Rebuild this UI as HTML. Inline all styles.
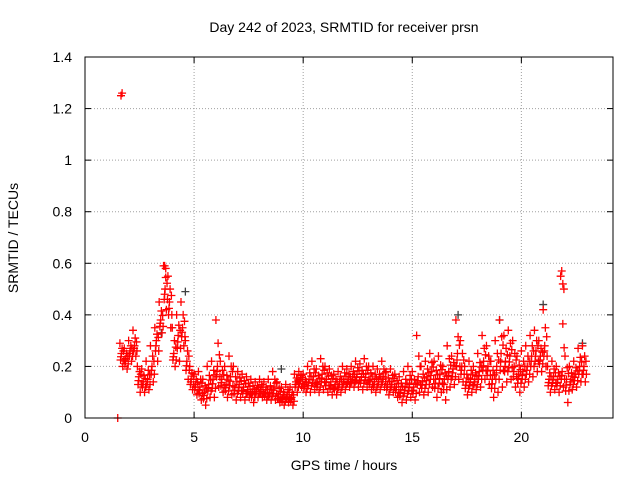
<!DOCTYPE html>
<html><head><meta charset="utf-8"><style>
body{margin:0;background:#fff;}
svg{display:block;font-family:"Liberation Sans",sans-serif;}
</style></head><body>
<svg id="chart" width="640" height="480" viewBox="0 0 640 480" xmlns="http://www.w3.org/2000/svg">
<text x="344" y="32" font-size="14" text-anchor="middle">Day 242 of 2023, SRMTID for receiver prsn</text>
<text x="344" y="470" font-size="14" text-anchor="middle">GPS time / hours</text>
<text transform="translate(18,238) rotate(-90)" font-size="14" text-anchor="middle">SRMTID / TECUs</text>
<g id="grid"></g>
<g id="ticks"></g>
<g id="marks"></g>
<rect x="85" y="57" width="528" height="361" fill="none" stroke="#000" stroke-width="1"/>
</svg>
<script>
const xTicks=[0,5,10,15,20];
const yTicks=[0,0.2,0.4,0.6,0.8,1,1.2,1.4];
const yTickLabels=["0","0.2","0.4","0.6","0.8","1","1.2","1.4"];
const times=[1.6,1.8,2.0,2.2,2.4,2.6,2.8,3.0,3.2,3.4,3.6,3.8,4.0,4.2,4.4,4.6,4.8,5.0,5.2,5.4,5.6,5.8,6.0,6.2,6.4,6.6,6.8,7.0,7.2,7.4,7.6,7.8,8.0,8.2,8.4,8.6,8.8,9.0,9.2,9.4,9.6,9.8,10.0,10.2,10.4,10.6,10.8,11.0,11.2,11.4,11.6,11.8,12.0,12.2,12.4,12.6,12.8,13.0,13.2,13.4,13.6,13.8,14.0,14.2,14.4,14.6,14.8,15.0,15.2,15.4,15.6,15.8,16.0,16.2,16.4,16.6,16.8,17.0,17.2,17.4,17.6,17.8,18.0,18.2,18.4,18.6,18.8,19.0,19.2,19.4,19.6,19.8,20.0,20.2,20.4,20.6,20.8,21.0,21.2,21.4,21.6,21.8,22.0,22.2,22.4,22.6,22.8];
const hiVals=[.29,.27,.30,.34,.20,.19,.22,.28,.35,.45,.59,.55,.35,.40,.45,.30,.20,.17,.18,.15,.20,.22,.38,.22,.20,.24,.20,.18,.17,.16,.15,.14,.15,.14,.15,.18,.14,.12,.13,.12,.17,.18,.17,.20,.22,.19,.23,.20,.19,.17,.18,.20,.19,.20,.22,.21,.23,.20,.20,.19,.22,.18,.19,.17,.16,.18,.20,.18,.32,.20,.22,.25,.22,.24,.20,.28,.24,.38,.30,.20,.22,.20,.25,.32,.28,.22,.30,.38,.32,.34,.30,.24,.26,.28,.32,.34,.30,.42,.20,.22,.20,.55,.24,.20,.22,.27,.28];
const midVals=[.25,.23,.26,.28,.16,.14,.15,.20,.30,.38,.50,.45,.25,.32,.35,.22,.15,.13,.12,.10,.13,.15,.20,.15,.13,.16,.12,.13,.12,.11,.10,.11,.11,.10,.10,.12,.09,.08,.09,.08,.14,.15,.13,.15,.16,.14,.17,.15,.14,.13,.14,.15,.15,.16,.17,.16,.17,.15,.14,.15,.16,.13,.14,.12,.11,.12,.13,.12,.16,.14,.16,.18,.15,.17,.15,.18,.19,.25,.20,.14,.15,.15,.18,.22,.20,.15,.20,.25,.22,.24,.20,.17,.18,.20,.24,.26,.24,.28,.15,.16,.15,.18,.15,.15,.17,.20,.20];
const loVals=[.20,.19,.22,.24,.10,.10,.11,.14,.22,.33,.42,.35,.20,.22,.28,.15,.11,.09,.07,.05,.08,.08,.12,.10,.08,.09,.07,.08,.07,.08,.06,.08,.08,.07,.07,.07,.06,.05,.06,.05,.10,.12,.10,.10,.11,.10,.11,.10,.09,.09,.10,.11,.12,.12,.12,.11,.12,.11,.10,.11,.12,.09,.10,.08,.06,.07,.08,.07,.10,.09,.10,.12,.08,.10,.07,.12,.13,.15,.14,.09,.10,.11,.12,.15,.13,.08,.10,.12,.14,.15,.12,.10,.12,.14,.16,.18,.18,.20,.10,.11,.10,.12,.06,.11,.12,.14,.14];
const outlierTimes=[1.5,1.65,1.7,3.65,3.7,21.85,21.9,21.95];
const outlierVals=[0.0,1.25,1.26,0.59,0.58,0.57,0.52,0.50];
const greyTimes=[4.6,17.1,19.0,21.0,22.8,3.5,9.0];
const greyVals=[0.49,0.40,0.38,0.44,0.29,0.33,0.19];
const X0=85,X1=613,Y0=418,Y1=57,XMAX=24.2,YMAX=1.4;
function xs(v){return X0+(v/XMAX)*(X1-X0);}
function ys(v){return Y0-(v/YMAX)*(Y0-Y1);}
const NS="http://www.w3.org/2000/svg";
const grid=document.getElementById('grid'),ticks=document.getElementById('ticks'),marks=document.getElementById('marks');
function line(p,x1,y1,x2,y2,st,dash){const l=document.createElementNS(NS,'line');l.setAttribute('x1',x1);l.setAttribute('y1',y1);l.setAttribute('x2',x2);l.setAttribute('y2',y2);l.setAttribute('stroke',st);if(dash)l.setAttribute('stroke-dasharray',dash);p.appendChild(l);return l;}
function txt(p,x,y,s,anchor){const t=document.createElementNS(NS,'text');t.setAttribute('x',x);t.setAttribute('y',y);t.setAttribute('font-size','14');t.setAttribute('text-anchor',anchor);t.textContent=s;p.appendChild(t);return t;}
xTicks.forEach(v=>{const x=xs(v);
 if(v>0){const g=line(grid,x,Y1,x,Y0,'#a0a0a0','1,2');}
 line(ticks,x,Y0,x,Y0-6,'#000');line(ticks,x,Y1,x,Y1+6,'#000');
 const t=txt(ticks,x,442,String(v),'middle');
 
 });
yTicks.forEach((v,i)=>{const y=ys(v);
 if(v>0&&v<YMAX){const g=line(grid,X0,y,X1,y,'#a0a0a0','1,2');}
 line(ticks,X0,y,X0+6,y,'#000');line(ticks,X1,y,X1-6,y,'#000');
 const t=txt(ticks,72,y+5,yTickLabels[i],'end');
 
 });
function cross(t,v,col){const x=xs(t),y=ys(v);const p=document.createElementNS(NS,'path');
 p.setAttribute('d',`M${x-4},${y}H${x+4}M${x},${y-4}V${y+4}`);p.setAttribute('stroke',col);p.setAttribute('stroke-width','1.3');p.setAttribute('fill','none');
 
 
 marks.appendChild(p);}
greyTimes.forEach((t,i)=>cross(t,greyVals[i],'#404040'));
times.forEach((t,i)=>{
 const h=hiVals[i],m=midVals[i],l=loVals[i];
 cross(t,h,'#ff0000');
 cross(t+0.07,m,'#ff0000');
 cross(t+0.13,l,'#ff0000');
 cross(t+0.1,(h+m)/2,'#ff0000');
 cross(t+0.03,(m+l)/2,'#ff0000');
 cross(t+0.16,(h+3*m)/4,'#ff0000');
 cross(t+0.05,(3*m+l)/4,'#ff0000');
 cross(t+0.18,(m+l)/2,'#ff0000');
});
outlierTimes.forEach((t,i)=>cross(t,outlierVals[i],'#ff0000'));
</script>
</body></html>
